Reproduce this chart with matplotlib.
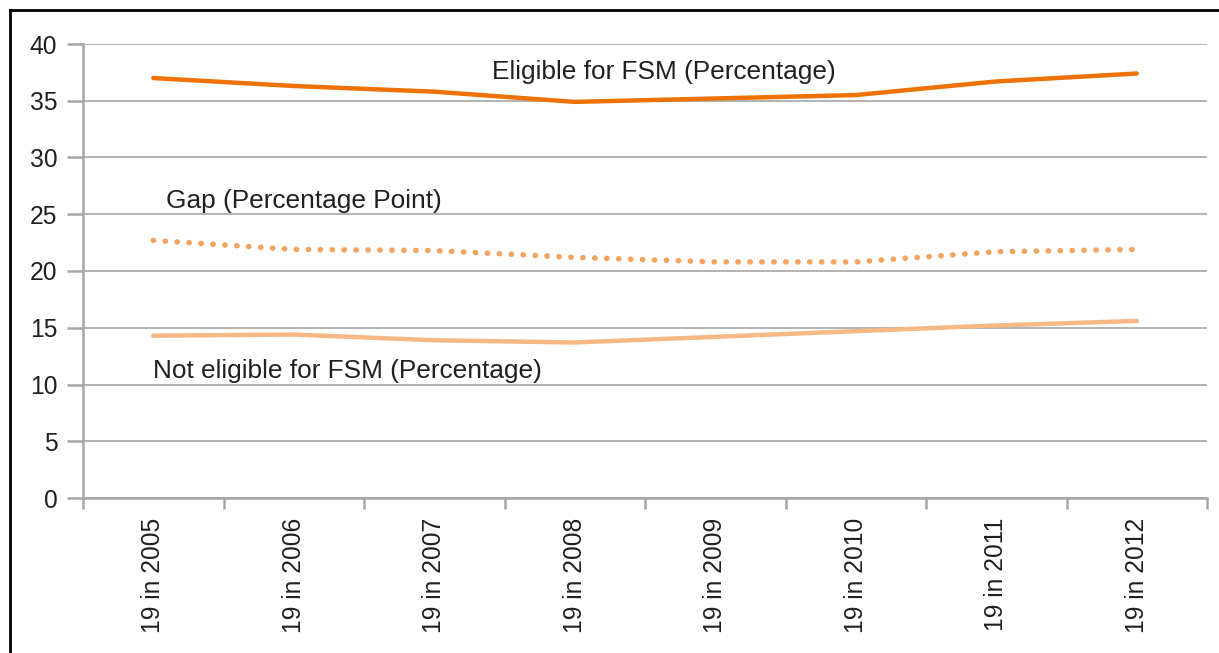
import matplotlib.pyplot as plt
from matplotlib.lines import Line2D
import numpy as np

plt.rcParams['font.family'] = ['Liberation Sans', 'DejaVu Sans']

# data
years = ['19 in 2005', '19 in 2006', '19 in 2007', '19 in 2008',
         '19 in 2009', '19 in 2010', '19 in 2011', '19 in 2012']
eligible = [37.0, 36.3, 35.8, 34.9, 35.2, 35.5, 36.7, 37.4]
not_eligible = [14.3, 14.4, 13.9, 13.7, 14.2, 14.7, 15.2, 15.6]
gap = [22.7, 21.9, 21.8, 21.2, 20.8, 20.8, 21.7, 21.9]

W, H = 1219, 653
fig = plt.figure(figsize=(W / 100, H / 100), dpi=100)
ax = fig.add_axes([83 / W, (H - 498) / H, (1207 - 83) / W, (498 - 44) / H])

x = np.arange(len(years))
grid_col = '#a6a6a6'
text_col = '#231f20'

ax.plot(x, eligible, color='#ee7203', lw=3.2, solid_capstyle='round', zorder=3)
ax.plot(x, not_eligible, color='#f6b885', lw=3.2, solid_capstyle='round', zorder=3)
ax.plot(x, gap, color='#f3a460', lw=4.0, linestyle=(0, (0.05, 2.1)),
        dash_capstyle='round', zorder=3)

ax.set_xlim(-0.5, len(years) - 0.5)
ax.set_ylim(0, 40)
ax.set_yticks(range(0, 41, 5))
ax.yaxis.grid(True, color=grid_col, lw=1.2)
ax.set_axisbelow(True)

ax.set_xticks(x)
ax.set_xticklabels(years, rotation=90, va='top', ha='center')
ax.set_xticks(np.arange(-0.5, len(years)), minor=True)
ax.tick_params(axis='x', which='major', length=0, pad=14, labelsize=17.7, labelcolor=text_col)
ax.tick_params(axis='x', which='minor', length=8, width=1.8, color=grid_col)
ax.tick_params(axis='y', length=11.5, width=1.8, color=grid_col, pad=7,
               labelsize=17.7, labelcolor=text_col)

for s in ['top', 'right']:
    ax.spines[s].set_visible(False)
for s in ['left', 'bottom']:
    ax.spines[s].set_color(grid_col)
    ax.spines[s].set_linewidth(1.8)

ax.text(2.41, 37.5, 'Eligible for FSM (Percentage)', fontsize=18.9, color=text_col, va='center')
ax.text(0.09, 26.2, 'Gap (Percentage Point)', fontsize=18.9, color=text_col, va='center')
ax.text(0.0, 11.2, 'Not eligible for FSM (Percentage)', fontsize=18.9, color=text_col, va='center')

# outer frame (top and left edges visible)
fig.add_artist(Line2D([10 / W, 1.0], [1 - 9.5 / H, 1 - 9.5 / H], color='black', lw=2))
fig.add_artist(Line2D([10 / W, 10 / W], [0, 1 - 9.5 / H], color='black', lw=2))

fig.savefig('out.png', dpi=100)
